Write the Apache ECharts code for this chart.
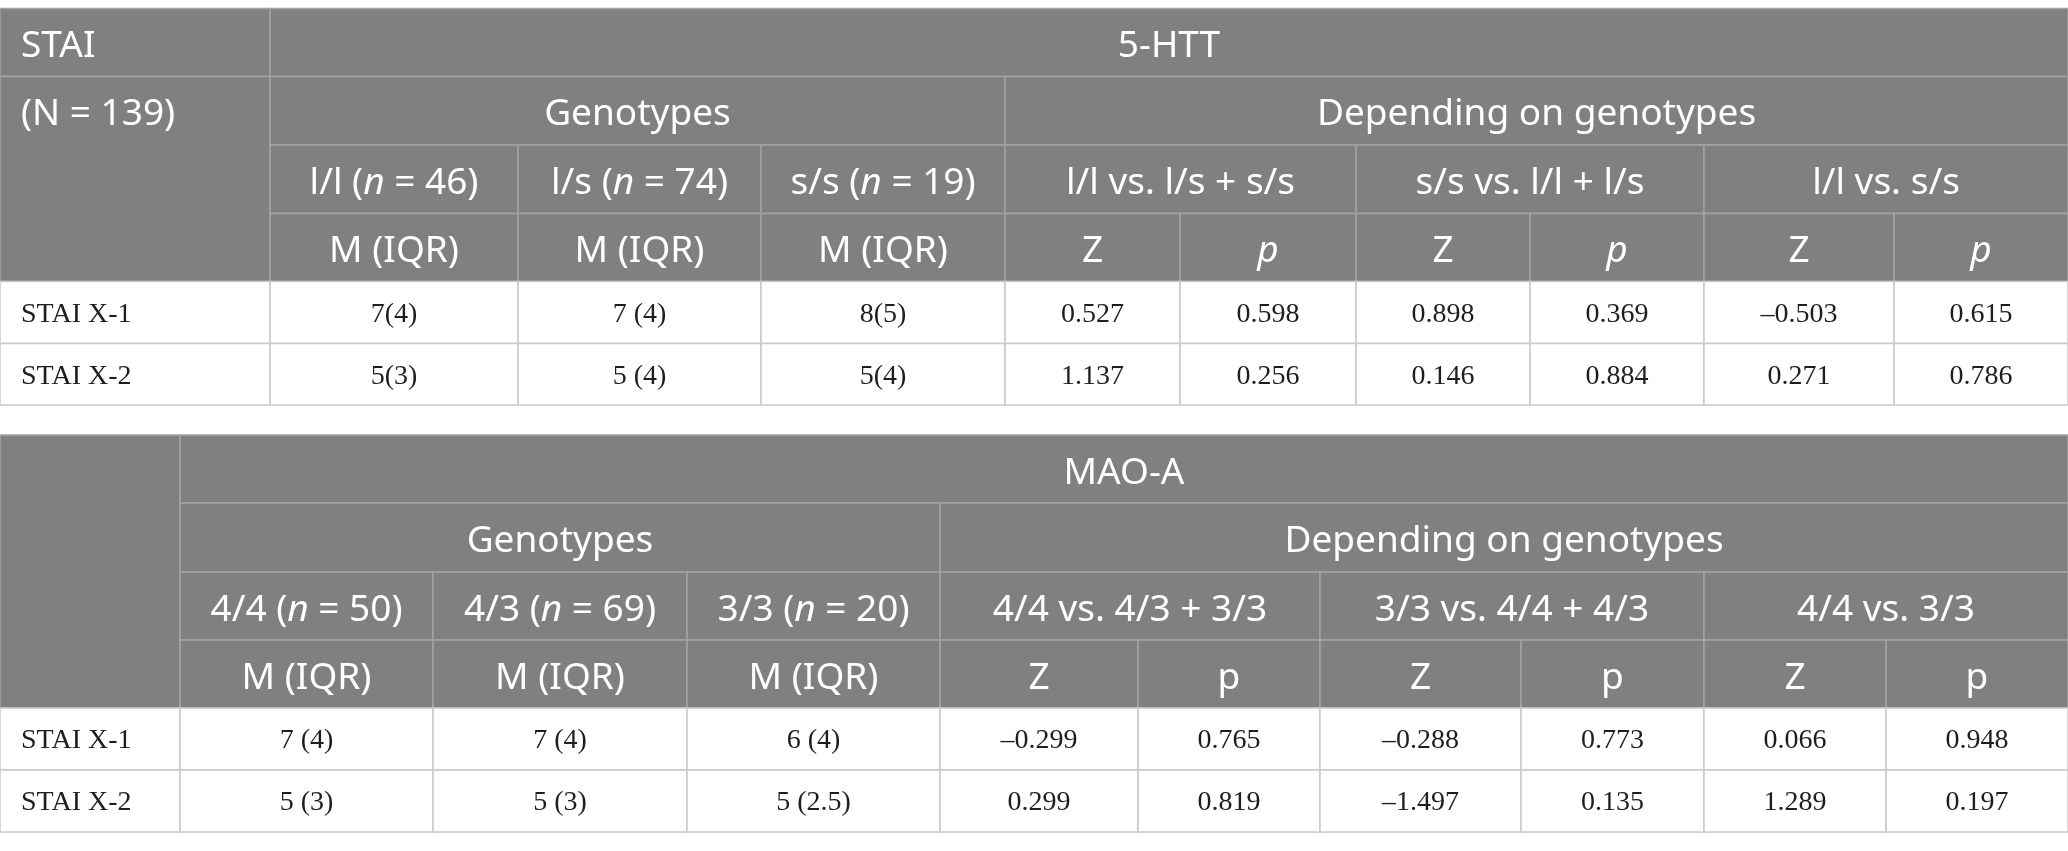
<!DOCTYPE html>
<html>
<head>
<meta charset="utf-8">
<script src="https://cdn.jsdelivr.net/npm/echarts@6/dist/echarts.min.js"></script>
<style>
html,body{margin:0;padding:0;background:#fff;}
#chart{width:2068px;height:851px;}
</style>
</head>
<body>
<div id="chart"></div>
<script>
// ---------- data ----------
const ROW_LABELS = ['STAI X-1', 'STAI X-2'];

const HTT_TITLE = '5-HTT';
const HTT_GENOTYPES = ['l/l', 'l/s', 's/s'];
const HTT_N = [46, 74, 19];
const HTT_COMPARISONS = ['l/l vs. l/s + s/s', 's/s vs. l/l + l/s', 'l/l vs. s/s'];
const HTT_MIQR_X1 = ['7(4)', '7 (4)', '8(5)'];
const HTT_MIQR_X2 = ['5(3)', '5 (4)', '5(4)'];
const HTT_Z_X1 = [0.527, 0.898, -0.503];
const HTT_P_X1 = [0.598, 0.369, 0.615];
const HTT_Z_X2 = [1.137, 0.146, 0.271];
const HTT_P_X2 = [0.256, 0.884, 0.786];

const MAO_TITLE = 'MAO-A';
const MAO_GENOTYPES = ['4/4', '4/3', '3/3'];
const MAO_N = [50, 69, 20];
const MAO_COMPARISONS = ['4/4 vs. 4/3 + 3/3', '3/3 vs. 4/4 + 4/3', '4/4 vs. 3/3'];
const MAO_MIQR_X1 = ['7 (4)', '7 (4)', '6 (4)'];
const MAO_MIQR_X2 = ['5 (3)', '5 (3)', '5 (2.5)'];
const MAO_Z_X1 = [-0.299, -0.288, 0.066];
const MAO_P_X1 = [0.765, 0.773, 0.948];
const MAO_Z_X2 = [0.299, -1.497, 1.289];
const MAO_P_X2 = [0.819, 0.135, 0.197];

// ---------- layout (pixel grid of the table) ----------
const LAYOUT = {
  htt: {
    colEdges: [0, 270, 518, 761, 1005, 1180, 1356, 1530, 1704, 1894, 2068],
    rowEdges: [8.5, 76.5, 145, 213.5, 281.5, 343.5, 405]
  },
  mao: {
    colEdges: [0, 180, 433, 687, 940, 1138, 1320, 1521, 1704, 1886, 2068],
    rowEdges: [435, 503, 572, 640, 708, 770, 832]
  }
};

function fmt(v) {
  const s = Math.abs(v).toFixed(3);
  return v < 0 ? '\u2013' + s : s;
}

function buildTable(key, spec) {
  const cells = [];
  const H = (t) => '{h|' + t + '}';
  const B = (t) => '{b|' + t + '}';
  if (spec.corner) {
    cells.push({key, c0: 0, c1: 1, r0: 0, r1: 1, head: true, align: 'left', text: H(spec.corner[0])});
    cells.push({key, c0: 0, c1: 1, r0: 1, r1: 4, head: true, align: 'left', textRow: 1, text: H(spec.corner[1])});
  } else {
    cells.push({key, c0: 0, c1: 1, r0: 0, r1: 4, head: true, text: ''});
  }
  cells.push({key, c0: 1, c1: 10, r0: 0, r1: 1, head: true, text: H(spec.title)});
  cells.push({key, c0: 1, c1: 4, r0: 1, r1: 2, head: true, text: H('Genotypes')});
  cells.push({key, c0: 4, c1: 10, r0: 1, r1: 2, head: true, text: H('Depending on genotypes')});
  for (let g = 0; g < 3; g++) {
    cells.push({key, c0: 1 + g, c1: 2 + g, r0: 2, r1: 3, head: true,
      text: H(spec.genotypes[g] + ' (') + '{hi|n}' + H(' = ' + spec.n[g] + ')')});
    cells.push({key, c0: 1 + g, c1: 2 + g, r0: 3, r1: 4, head: true, text: H('M (IQR)')});
  }
  for (let k = 0; k < 3; k++) {
    cells.push({key, c0: 4 + 2 * k, c1: 6 + 2 * k, r0: 2, r1: 3, head: true, text: H(spec.comparisons[k])});
    cells.push({key, c0: 4 + 2 * k, c1: 5 + 2 * k, r0: 3, r1: 4, head: true, text: H('Z')});
    cells.push({key, c0: 5 + 2 * k, c1: 6 + 2 * k, r0: 3, r1: 4, head: true,
      text: spec.pItalic ? '{hi|p}' : H('p')});
  }
  for (let r = 0; r < 2; r++) {
    cells.push({key, c0: 0, c1: 1, r0: 4 + r, r1: 5 + r, head: false, align: 'left', text: B(ROW_LABELS[r])});
    for (let g = 0; g < 3; g++) {
      cells.push({key, c0: 1 + g, c1: 2 + g, r0: 4 + r, r1: 5 + r, head: false, text: B(spec.miqr[r][g])});
    }
    for (let k = 0; k < 3; k++) {
      cells.push({key, c0: 4 + 2 * k, c1: 5 + 2 * k, r0: 4 + r, r1: 5 + r, head: false, text: B(fmt(spec.z[r][k]))});
      cells.push({key, c0: 5 + 2 * k, c1: 6 + 2 * k, r0: 4 + r, r1: 5 + r, head: false, text: B(fmt(spec.p[r][k]))});
    }
  }
  return cells;
}

const CELLS = [].concat(
  buildTable('htt', {
    corner: ['STAI', '(N = 139)'], title: HTT_TITLE, genotypes: HTT_GENOTYPES, n: HTT_N,
    comparisons: HTT_COMPARISONS, pItalic: true,
    miqr: [HTT_MIQR_X1, HTT_MIQR_X2], z: [HTT_Z_X1, HTT_Z_X2], p: [HTT_P_X1, HTT_P_X2]
  }),
  buildTable('mao', {
    corner: null, title: MAO_TITLE, genotypes: MAO_GENOTYPES, n: MAO_N,
    comparisons: MAO_COMPARISONS, pItalic: false,
    miqr: [MAO_MIQR_X1, MAO_MIQR_X2], z: [MAO_Z_X1, MAO_Z_X2], p: [MAO_P_X1, MAO_P_X2]
  })
);

const HEAD_FONT = '"Noto Sans", "Open Sans", sans-serif';
const BODY_FONT = '"Liberation Serif", "DejaVu Serif", serif';
const RICH = {
  h: {fontFamily: HEAD_FONT, fontSize: 37, fill: '#ffffff', color: '#ffffff'},
  hi: {fontFamily: HEAD_FONT, fontSize: 37, fontStyle: 'italic', fill: '#ffffff', color: '#ffffff'},
  b: {fontFamily: BODY_FONT, fontSize: 28, fill: '#1e1e1e', color: '#1e1e1e'}
};

function renderItem(params, api) {
  const c = CELLS[params.dataIndex];
  const L = LAYOUT[c.key];
  const p0 = api.coord([L.colEdges[c.c0], L.rowEdges[c.r0]]);
  const p1 = api.coord([L.colEdges[c.c1], L.rowEdges[c.r1]]);
  const x = p0[0], y = p0[1], w = p1[0] - p0[0], h = p1[1] - p0[1];
  let ty = y + h / 2;
  if (c.textRow != null) {
    const a = api.coord([0, L.rowEdges[c.textRow]]);
    const b = api.coord([0, L.rowEdges[c.textRow + 1]]);
    ty = (a[1] + b[1]) / 2;
  }
  const left = c.align === 'left';
  return {
    type: 'group',
    children: [
      {
        type: 'rect',
        shape: {x: x, y: y, width: w, height: h},
        style: {
          fill: c.head ? '#808080' : '#ffffff',
          stroke: c.head ? '#a4a4a4' : '#c9c9c9',
          lineWidth: 1.5
        }
      },
      {
        type: 'text',
        style: {
          text: c.text,
          rich: RICH,
          x: left ? x + 21 : x + w / 2,
          y: ty + (c.head ? 4 : 2),
          align: left ? 'left' : 'center',
          verticalAlign: 'middle'
        }
      }
    ]
  };
}

const chart = echarts.init(document.getElementById('chart'), null, {renderer: 'canvas'});
chart.setOption({
  animation: false,
  backgroundColor: '#ffffff',
  grid: {left: 0, right: 0, top: 0, bottom: 0},
  xAxis: {type: 'value', min: 0, max: 2068, show: false},
  yAxis: {type: 'value', min: 0, max: 851, inverse: true, show: false},
  series: [{
    type: 'custom',
    renderItem: renderItem,
    data: CELLS.map(c => [LAYOUT[c.key].colEdges[c.c0], LAYOUT[c.key].rowEdges[c.r0]]),
    clip: false
  }]
});
</script>
</body>
</html>
